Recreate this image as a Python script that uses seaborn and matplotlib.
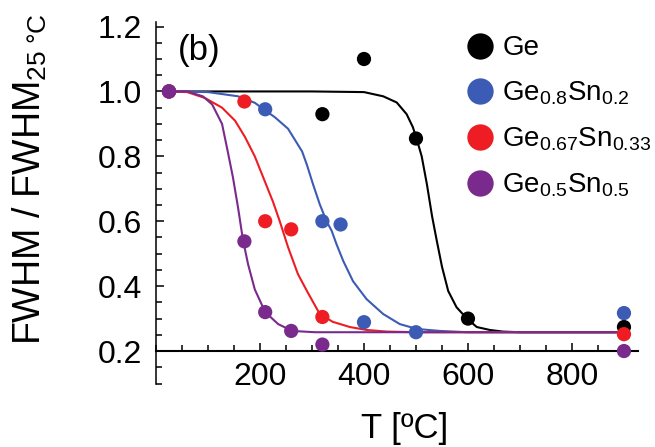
import numpy as np
import pandas as pd
import matplotlib.pyplot as plt
import seaborn as sns
from matplotlib.ticker import MultipleLocator, FixedLocator

# sample names (legend labels) and colours
samples = [r'Ge',
           r'Ge$_{\mathregular{0.8}}$Sn$_{\mathregular{0.2}}$',
           r'Ge$_{\mathregular{0.67}}$Sn$_{\mathregular{0.33}}$',
           r'Ge$_{\mathregular{0.5}}$Sn$_{\mathregular{0.5}}$']
colors = ['#000000', '#3c5bb4', '#ee1d23', '#7a2a8c']

# measured points (T in C, FWHM / FWHM_25C)
ge_t = [25, 320, 400, 500, 600, 900]
ge_v = [1.0, 0.93, 1.10, 0.855, 0.30, 0.274]
sn20_t = [25, 210, 320, 355, 400, 500, 900]
sn20_v = [1.0, 0.945, 0.60, 0.59, 0.289, 0.258, 0.317]
sn33_t = [25, 170, 210, 260, 320, 900]
sn33_v = [1.0, 0.969, 0.60, 0.575, 0.305, 0.252]
sn50_t = [25, 170, 210, 260, 320, 900]
sn50_v = [1.0, 0.538, 0.32, 0.262, 0.22, 0.20]

# fitted curves
ge_fit_t = [25, 100, 200, 300, 400, 437, 463, 482, 494, 502, 511, 521, 531,
            540, 550, 562, 578, 598, 617, 642, 667, 700, 900]
ge_fit_v = [1.0, 1.0, 1.0, 1.0, 0.998, 0.985, 0.966, 0.93, 0.89, 0.85, 0.80,
            0.714, 0.615, 0.54, 0.46, 0.385, 0.335, 0.30, 0.274, 0.265, 0.26,
            0.258, 0.258]
sn20_fit_t = [25, 100, 158, 190, 229, 254, 281, 290, 302, 315, 328, 338, 347,
              360, 379, 405, 437, 469, 502, 546, 600, 900]
sn20_fit_v = [1.0, 0.998, 0.985, 0.965, 0.92, 0.885, 0.815, 0.775, 0.714,
              0.652, 0.60, 0.57, 0.53, 0.478, 0.415, 0.36, 0.314, 0.283, 0.268,
              0.262, 0.258, 0.258]
sn33_fit_t = [25, 60, 94, 127, 152, 171, 190, 210, 225, 238, 254, 273, 292,
              315, 340, 373, 405, 444, 500, 900]
sn33_fit_v = [1.0, 0.998, 0.98, 0.95, 0.91, 0.86, 0.80, 0.72, 0.66, 0.60,
              0.52, 0.437, 0.38, 0.314, 0.29, 0.274, 0.265, 0.26, 0.258, 0.258]
sn50_fit_t = [25, 60, 90, 108, 127, 138, 148, 158, 167, 177, 190, 210, 235,
              262, 306, 900]
sn50_fit_v = [1.0, 1.0, 0.985, 0.96, 0.90, 0.815, 0.735, 0.64, 0.545, 0.468,
              0.39, 0.32, 0.283, 0.262, 0.258, 0.258]

pts = pd.concat([
    pd.DataFrame({'T': t, 'fwhm': v, 'sample': s}) for t, v, s in
    [(ge_t, ge_v, samples[0]), (sn20_t, sn20_v, samples[1]),
     (sn33_t, sn33_v, samples[2]), (sn50_t, sn50_v, samples[3])]],
    ignore_index=True)

fits = pd.concat([
    pd.DataFrame({'T': t, 'fwhm': v, 'sample': s}) for t, v, s in
    [(ge_fit_t, ge_fit_v, samples[0]), (sn20_fit_t, sn20_fit_v, samples[1]),
     (sn33_fit_t, sn33_fit_v, samples[2]), (sn50_fit_t, sn50_fit_v, samples[3])]],
    ignore_index=True)

pal = dict(zip(samples, colors))

sns.set_style('ticks')
plt.rcParams['font.family'] = ['Liberation Sans', 'DejaVu Sans']
plt.rcParams['mathtext.fontset'] = 'custom'
plt.rcParams['mathtext.rm'] = 'Liberation Sans'
plt.rcParams['mathtext.it'] = 'Liberation Sans:italic'
plt.rcParams['mathtext.bf'] = 'Liberation Sans:bold'
for k in ['text.color', 'axes.labelcolor', 'xtick.color', 'ytick.color',
          'axes.edgecolor']:
    plt.rcParams[k] = 'black'

fig = plt.figure(figsize=(6.55, 4.47), dpi=100)
ax = fig.add_axes([156 / 655, 63.5 / 447, 482 / 655, 361.5 / 447])

sns.lineplot(data=fits, x='T', y='fwhm', hue='sample', hue_order=samples,
             palette=pal, sort=False, estimator=None, legend=False, lw=1.5,
             ax=ax)
sns.scatterplot(data=pts, x='T', y='fwhm', hue='sample', hue_order=samples,
                palette=pal, s=105, linewidth=0, zorder=3, ax=ax)

ax.set_xlim(0, 927)
ax.set_ylim(0.1, 1.214)

# x axis sits at y = 0.2
ax.spines['bottom'].set_position(('data', 0.2))
ax.spines['top'].set_visible(False)
ax.spines['right'].set_visible(False)
ax.spines['left'].set_linewidth(1.1)
ax.spines['bottom'].set_linewidth(1.5)

ax.xaxis.set_major_locator(FixedLocator([200, 400, 600, 800]))
ax.xaxis.set_minor_locator(MultipleLocator(50))
ax.yaxis.set_major_locator(FixedLocator([0.2, 0.4, 0.6, 0.8, 1.0, 1.2]))
ax.yaxis.set_minor_locator(MultipleLocator(0.05))
ax.set_yticklabels(['0.2', '0.4', '0.6', '0.8', '1.0', '1.2'])
ax.tick_params(which='both', direction='in', width=1.1, labelsize=23)
ax.tick_params(which='major', length=6)
ax.tick_params(which='minor', length=4)
ax.tick_params(axis='y', pad=10)
ax.tick_params(axis='x', pad=8)

ax.set_xlabel('T [ºC]', fontsize=25)
ax.xaxis.set_label_coords(0.515, -0.078)
ax.set_ylabel(r'FWHM / FWHM$_{\mathregular{25\ °C}}$', fontsize=27)
ax.yaxis.set_label_coords(-0.222, 0.566)

ax.text(0.089, 0.92, '(b)', transform=ax.transAxes, ha='center',
        va='center', fontsize=25)

sns.move_legend(ax, 'upper left', bbox_to_anchor=(455 / 655, 0.946),
                bbox_transform=fig.transFigure, title=None, frameon=False,
                fontsize=20, markerscale=1.85, handlelength=1.0,
                handletextpad=0.3, labelspacing=0.66, borderaxespad=0)

fig.savefig('out.png', dpi=100)
